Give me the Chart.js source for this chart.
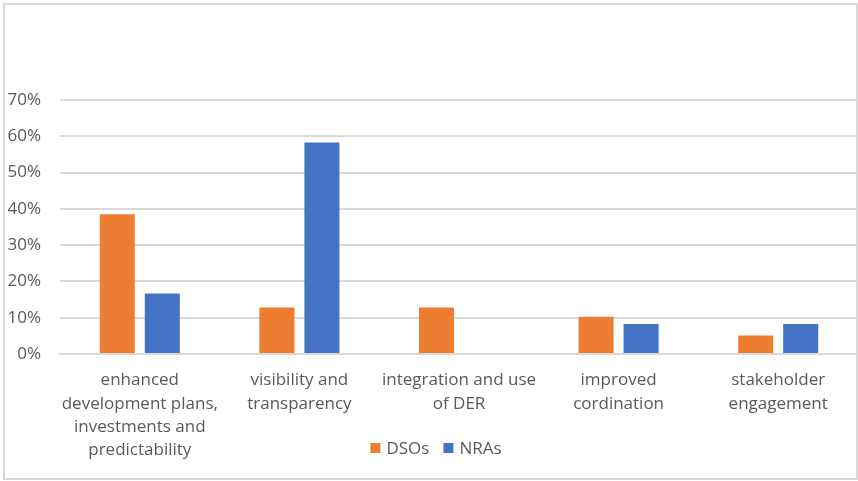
<!DOCTYPE html>
<html>
<head>
<meta charset="utf-8">
<script src="https://cdn.jsdelivr.net/npm/chart.js@4"></script>
<style>
  html, body { margin: 0; padding: 0; background: #fff; }
  #wrap { position: relative; width: 858px; height: 481px; overflow: hidden; }
  #frame {
    position: absolute; left: 3px; top: 3px; width: 851px; height: 473px;
    border: 2px solid #d9d9d9; pointer-events: none;
  }
</style>
</head>
<body>
<div id="wrap">
  <canvas id="chart" width="858" height="481"></canvas>
  <div id="frame"></div>
</div>
<script>
// categories (each one split into its display lines)
const categories = [
    ['enhanced', 'development plans,', 'investments and', 'predictability'],
    ['visibility and', 'transparency'],
    ['integration and use', 'of DER'],
    ['improved', 'cordination'],
    ['stakeholder', 'engagement']
];

// share of answers, in percent
const dsoValues = [38.5, 12.8, 12.8, 10.3, 5.1];
const nraValues = [16.7, 58.3, 0, 8.3, 8.3];

const yTicks = [0, 10, 20, 30, 40, 50, 60, 70];

const textColor = '#595959';
const gridColor = '#d9d9d9';
const fontFamily = '"Open Sans", "Liberation Sans", sans-serif';

// legend drawn by hand so it can sit beside the wrapped category labels
const bottomLegend = {
    id: 'bottomLegend',
    afterDraw(chart) {
        const c = chart.ctx;
        const sets = chart.data.datasets;
        c.save();
        c.font = '17px ' + fontFamily;
        c.textBaseline = 'middle';
        const box = 10, gap = 6, spacing = 14;
        let total = 0;
        sets.forEach((ds, i) => {
            total += box + gap + c.measureText(ds.label).width;
            if (i < sets.length - 1) total += spacing;
        });
        let x = 436 - total / 2;
        const y = 448;
        sets.forEach(ds => {
            c.fillStyle = ds.backgroundColor;
            c.fillRect(x, y - box / 2, box, box);
            x += box + gap;
            c.fillStyle = textColor;
            c.fillText(ds.label, x, y + 1);
            x += c.measureText(ds.label).width + spacing;
        });
        c.restore();
    }
};

const ctx = document.getElementById('chart').getContext('2d');

new Chart(ctx, {
    type: 'bar',
    data: {
        labels: categories,
        datasets: [
            {
                label: 'DSOs',
                data: dsoValues,
                backgroundColor: '#ED7D31',
                barPercentage: 0.778,
                categoryPercentage: 0.564
            },
            {
                label: 'NRAs',
                data: nraValues,
                backgroundColor: '#4472C4',
                barPercentage: 0.778,
                categoryPercentage: 0.564
            }
        ]
    },
    options: {
        responsive: false,
        animation: false,
        layout: {
            padding: { top: 100, left: 5, right: 0, bottom: 0 }
        },
        plugins: {
            tooltip: { enabled: false },
            legend: { display: false }
        },
        scales: {
            x: {
                grid: { display: false },
                border: { display: true, color: gridColor, width: 2 },
                afterFit: function(scale) { scale.height = 127; },
                ticks: {
                    autoSkip: false,
                    maxRotation: 0,
                    padding: 7,
                    color: textColor,
                    font: { family: fontFamily, size: 17, lineHeight: 1.37 }
                }
            },
            y: {
                min: 0,
                max: 70,
                afterFit: function(scale) { scale.width = 55; },
                afterBuildTicks: function(scale) {
                    scale.ticks = yTicks.map(v => ({ value: v }));
                },
                grid: { color: gridColor, lineWidth: 2, drawTicks: false },
                border: { display: false },
                ticks: {
                    padding: 19,
                    color: textColor,
                    font: { family: fontFamily, size: 17 },
                    callback: function(v) { return v + '%'; }
                }
            }
        }
    },
    plugins: [bottomLegend]
});
</script>
</body>
</html>
